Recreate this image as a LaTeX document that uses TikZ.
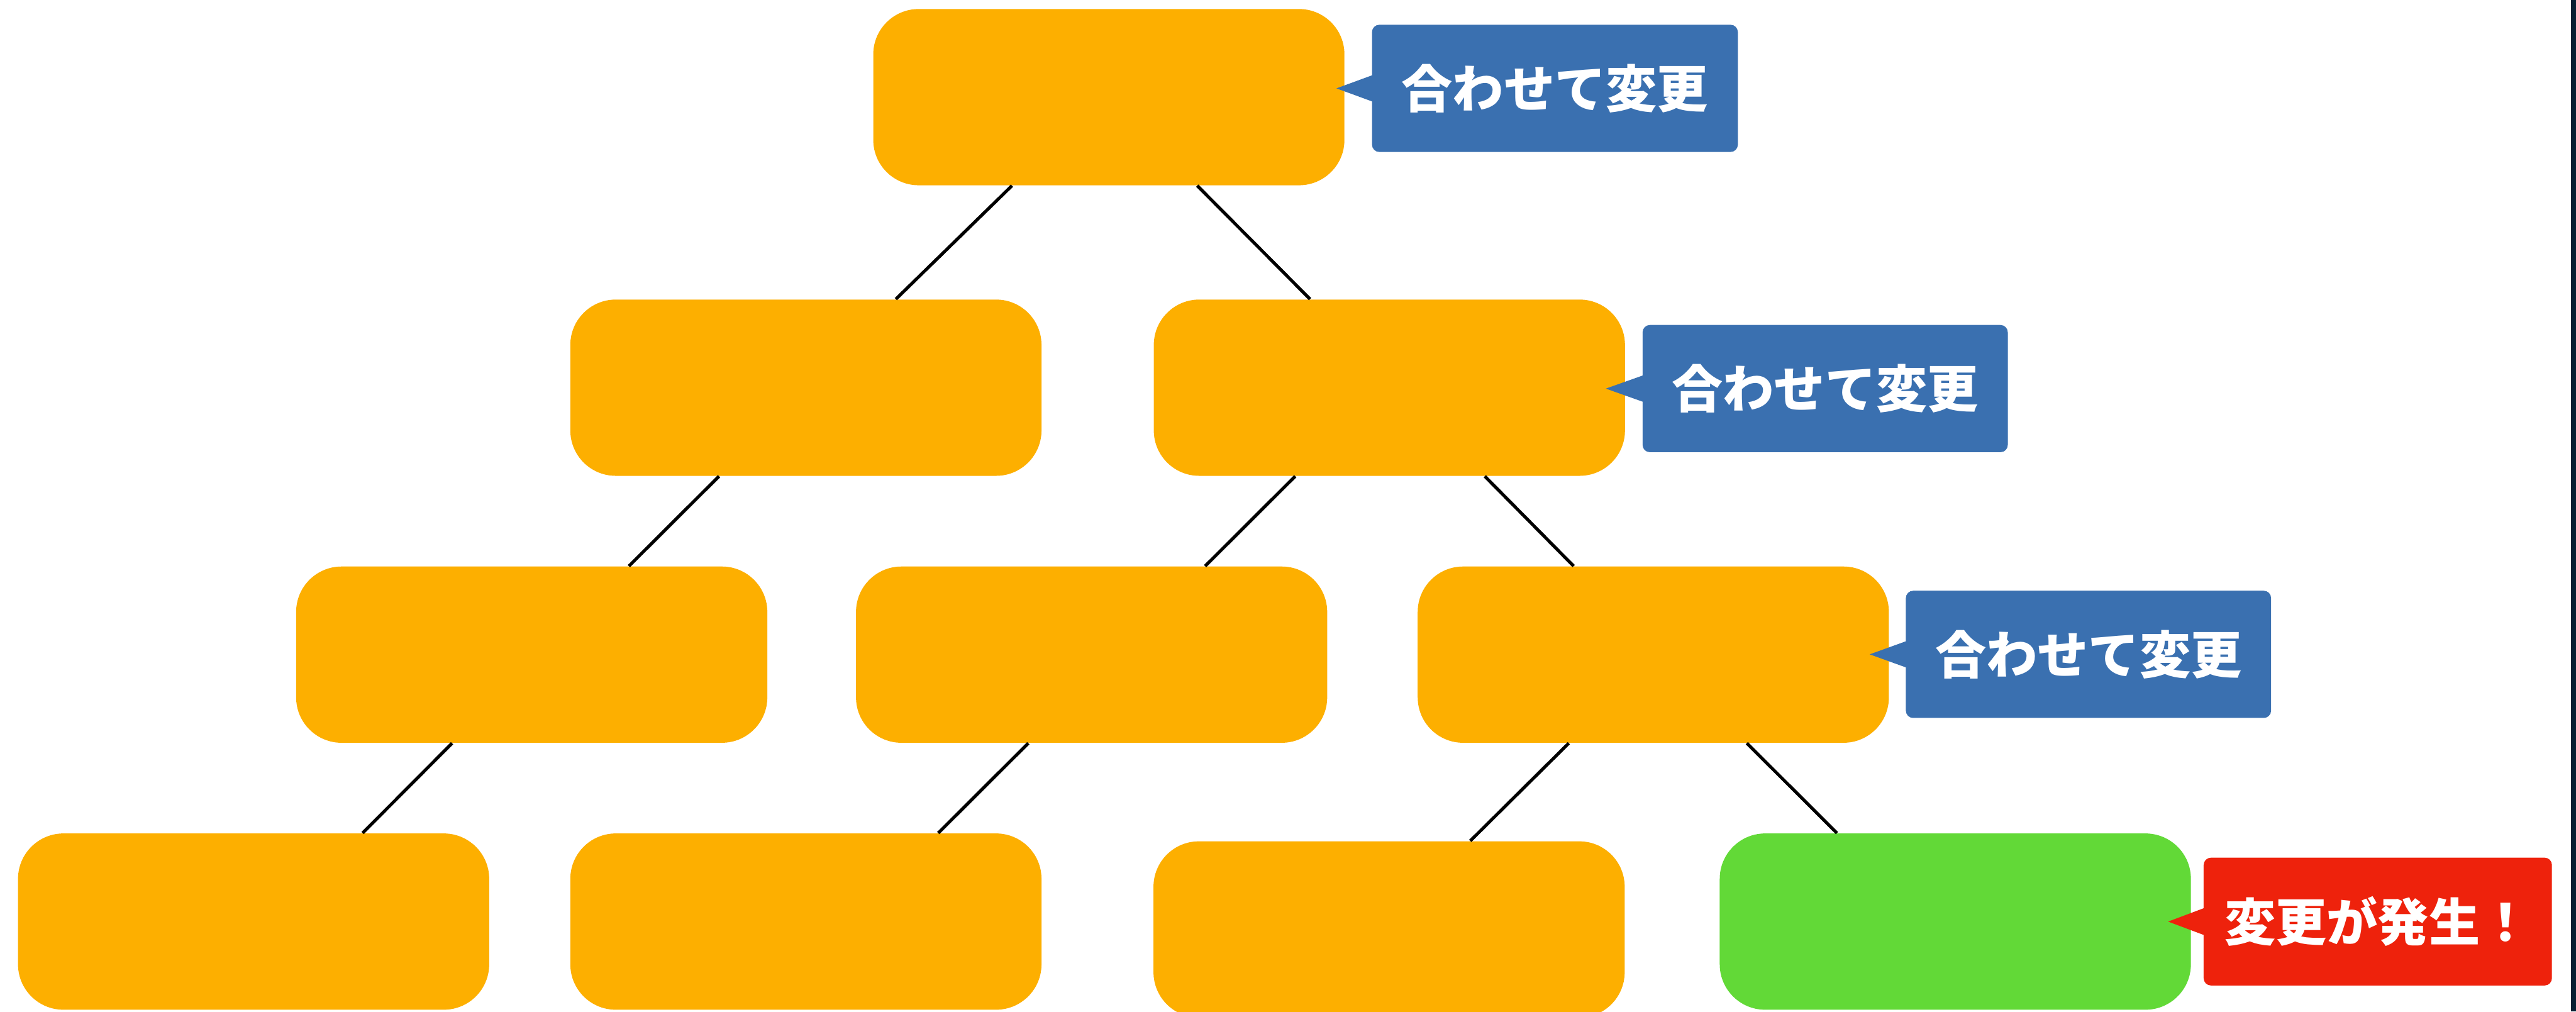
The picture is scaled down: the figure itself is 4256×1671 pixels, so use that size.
\documentclass[tikz,border=0pt]{standalone}
\usepackage{fontspec}
\newfontfamily\cjk{Noto Sans CJK JP}
\definecolor{orangeC}{HTML}{FDAF00}
\definecolor{blueC}{HTML}{3A70B0}
\definecolor{greenC}{HTML}{62D937}
\definecolor{redC}{HTML}{EE220C}
\definecolor{edgeC}{HTML}{061F33}
\begin{document}
\begin{tikzpicture}[x=0.01cm,y=-0.01cm,
  treebox/.style={fill=orangeC, rounded corners=0.75cm, minimum width=7.78cm, minimum height=2.91cm, inner sep=0pt, draw=none},
  tag/.style={fill=#1, rounded corners=0.12cm, minimum height=2.10cm, text=white, font=\cjk\bfseries\fontsize{24}{28}\selectfont, inner sep=0pt},
  link/.style={line width=1.5pt, black}]
\useasboundingbox (0,0) rectangle (4256,1671);
\fill[white] (0,0) rectangle (4256,1671);
\fill[edgeC] (4248,0) rectangle (4256,1671);

% tree nodes
\node[treebox] (top) at (1832,160.5) {};
\node[treebox] (r2a) at (1331.5,640.5) {};
\node[treebox] (r2b) at (2295.5,640.5) {};
\node[treebox] (r3a) at (878.5,1081.5) {};
\node[treebox] (r3b) at (1803.5,1081.5) {};
\node[treebox] (r3c) at (2731.5,1081.5) {};
\node[treebox] (r4a) at (419,1522.5) {};
\node[treebox] (r4b) at (1331.5,1522.5) {};
\node[treebox] (r4c) at (2295,1535.5) {};
\node[treebox, fill=greenC] (r4d) at (3230.5,1522.5) {};

% connectors
\draw[link] ([xshift=-1.60cm]top.south) -- ([xshift=1.485cm]r2a.north);
\draw[link] ([xshift=1.46cm]top.south) -- ([xshift=-1.31cm]r2b.north);
\draw[link] ([xshift=-1.435cm]r2a.south) -- ([xshift=1.605cm]r3a.north);
\draw[link] ([xshift=-1.555cm]r2b.south) -- ([xshift=1.875cm]r3b.north);
\draw[link] ([xshift=1.575cm]r2b.south) -- ([xshift=-1.315cm]r3c.north);
\draw[link] ([xshift=-1.315cm]r3a.south) -- ([xshift=1.80cm]r4a.north);
\draw[link] ([xshift=-1.045cm]r3b.south) -- ([xshift=2.185cm]r4b.north);
\draw[link] ([xshift=-1.395cm]r3c.south) -- ([xshift=1.34cm]r4c.north);
\draw[link] ([xshift=1.545cm]r3c.south) -- ([xshift=-1.955cm]r4d.north);

% callouts
\node[tag=blueC, minimum width=6.04cm] (c1) at (2569,146) {合わせて変更};
\fill[blueC] ([xshift=0.02cm,yshift=0.22cm]c1.west) -- ([xshift=-0.58cm]c1.west) -- ([xshift=0.02cm,yshift=-0.22cm]c1.west) -- cycle;
\node[tag=blueC, minimum width=6.03cm] (c2) at (3015.5,642) {合わせて変更};
\fill[blueC] ([xshift=0.02cm,yshift=0.22cm]c2.west) -- ([xshift=-0.60cm]c2.west) -- ([xshift=0.02cm,yshift=-0.22cm]c2.west) -- cycle;
\node[tag=blueC, minimum width=6.03cm] (c3) at (3450.5,1081) {合わせて変更};
\fill[blueC] ([xshift=0.02cm,yshift=0.22cm]c3.west) -- ([xshift=-0.59cm]c3.west) -- ([xshift=0.02cm,yshift=-0.22cm]c3.west) -- cycle;
\node[tag=redC, minimum width=5.75cm, minimum height=2.11cm] (c4) at (3928.5,1522.5) {変更が発生！};
\fill[redC] ([xshift=0.02cm,yshift=0.225cm]c4.west) -- ([xshift=-0.58cm]c4.west) -- ([xshift=0.02cm,yshift=-0.225cm]c4.west) -- cycle;
\end{tikzpicture}
\end{document}
